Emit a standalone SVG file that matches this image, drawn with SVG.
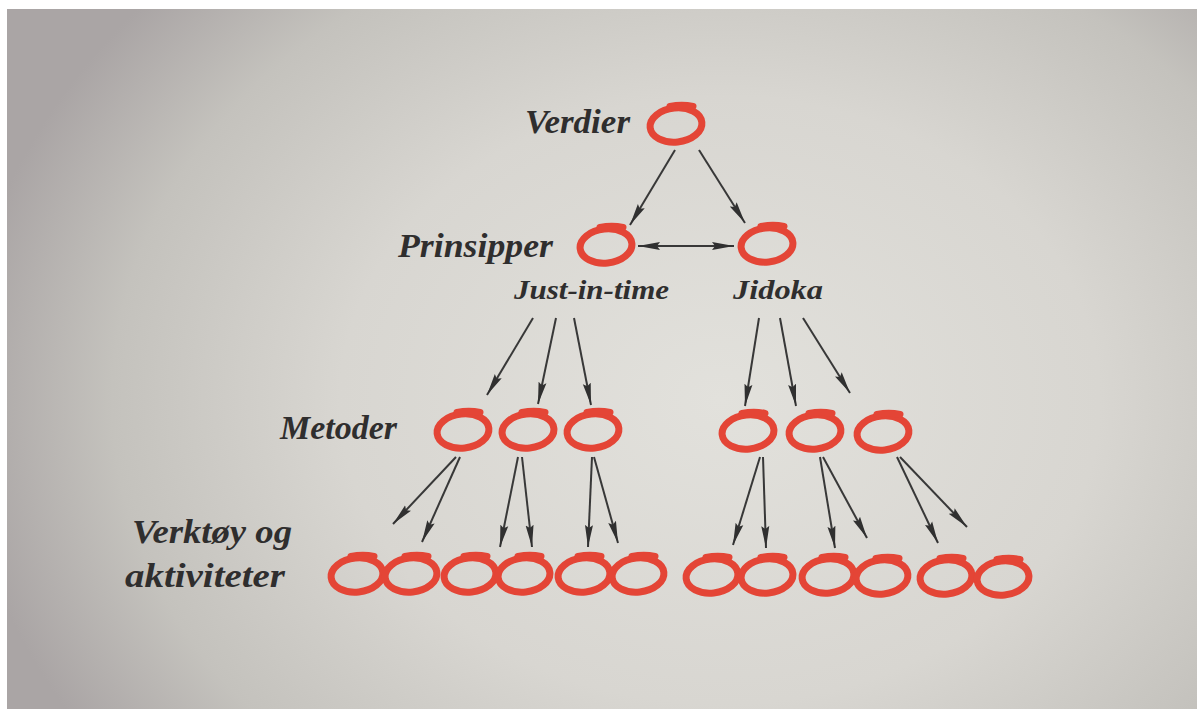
<svg xmlns="http://www.w3.org/2000/svg" xmlns:xlink="http://www.w3.org/1999/xlink" width="1200" height="709" viewBox="0 0 1200 709">
  <style>
    .lbl { font-family: "Liberation Serif", "DejaVu Serif", serif; font-style: italic; font-weight: bold; fill: #2f2e2e; }
    .big { font-size: 34px; }
    .small { font-size: 27px; }
    .conn line { stroke: #383838; stroke-width: 2; fill: none; marker-end: url(#head); }
    .ring-shape { fill: none; stroke: #e44536; stroke-width: 7; stroke-linecap: round; }
  </style>
  <defs>
    <radialGradient id="screen" cx="720" cy="400" r="760" gradientUnits="userSpaceOnUse" gradientTransform="translate(720 400) scale(1 0.8) translate(-720 -400)">
      <stop offset="0" stop-color="#e2e1dc"/>
      <stop offset="0.5" stop-color="#d8d6d1"/>
      <stop offset="0.8" stop-color="#c4c2bd"/>
      <stop offset="1" stop-color="#aaa5a5"/>
    </radialGradient>
    <marker id="head" viewBox="0 0 22 9" markerWidth="22" markerHeight="9" refX="22" refY="4.5" orient="auto-start-reverse" markerUnits="userSpaceOnUse">
      <path d="M0,0.5 L22,4.5 L0,8.5 L3,4.5 Z" fill="#303030"/>
    </marker>
    <!-- hand-drawn "O": tilted ellipse with a thin overshoot stroke on top -->
    <g id="ring">
      <ellipse class="ring-shape" cx="0" cy="0" rx="26" ry="17" transform="rotate(-6)"/>
      <path class="ring-shape" d="M-6,-18.5 Q6,-21 17,-18.5" stroke-width="2.5"/>
    </g>
  </defs>

  <!-- background -->
  <rect x="0" y="0" width="1200" height="709" fill="#ffffff"/>
  <rect x="7" y="9" width="1190" height="700" fill="url(#screen)"/>

  <!-- level labels -->
  <text class="lbl big" x="525" y="133" textLength="105" lengthAdjust="spacingAndGlyphs">Verdier</text>
  <text class="lbl big" x="398" y="257" textLength="155" lengthAdjust="spacingAndGlyphs">Prinsipper</text>
  <text class="lbl small" x="514" y="299" textLength="155" lengthAdjust="spacingAndGlyphs">Just-in-time</text>
  <text class="lbl small" x="733" y="299" textLength="90" lengthAdjust="spacingAndGlyphs">Jidoka</text>
  <text class="lbl big" x="280" y="439" textLength="117" lengthAdjust="spacingAndGlyphs">Metoder</text>
  <text class="lbl big" x="132" y="543" textLength="160" lengthAdjust="spacingAndGlyphs">Verktøy og</text>
  <text class="lbl big" x="125" y="587" textLength="160" lengthAdjust="spacingAndGlyphs">aktiviteter</text>

  <!-- connectors -->
  <g class="conn" id="connectors">
    <line x1="675" y1="150" x2="630" y2="225"/>
    <line x1="699" y1="150" x2="745" y2="223"/>
    <line x1="638" y1="246" x2="734" y2="246" marker-start="url(#head)"/>

    <line x1="533" y1="318" x2="487" y2="395"/>
    <line x1="556" y1="318" x2="538" y2="404"/>
    <line x1="574" y1="318" x2="591" y2="405"/>
    <line x1="759" y1="318" x2="745" y2="406"/>
    <line x1="780" y1="318" x2="796" y2="406"/>
    <line x1="803" y1="318" x2="850" y2="393"/>

    <line x1="456" y1="457" x2="393" y2="524"/>
    <line x1="460" y1="457" x2="422" y2="542"/>
    <line x1="518" y1="457" x2="500" y2="547"/>
    <line x1="522" y1="457" x2="532" y2="547"/>
    <line x1="592" y1="457" x2="588" y2="547"/>
    <line x1="594" y1="457" x2="618" y2="543"/>

    <line x1="760" y1="457" x2="733" y2="545"/>
    <line x1="763" y1="457" x2="766" y2="548"/>
    <line x1="820" y1="457" x2="835" y2="548"/>
    <line x1="823" y1="457" x2="867" y2="538"/>
    <line x1="897" y1="457" x2="938" y2="543"/>
    <line x1="900" y1="457" x2="967" y2="527"/>
  </g>

  <!-- nodes -->
  <g id="n-verdier"><use href="#ring" x="676" y="125"/></g>
  <g id="n-jit"><use href="#ring" x="606" y="246"/></g>
  <g id="n-jidoka"><use href="#ring" x="767" y="245"/></g>

  <g id="n-m1"><use href="#ring" x="463" y="431"/></g>
  <g id="n-m2"><use href="#ring" x="528" y="431"/></g>
  <g id="n-m3"><use href="#ring" x="593" y="431"/></g>
  <g id="n-m4"><use href="#ring" x="748" y="432"/></g>
  <g id="n-m5"><use href="#ring" x="815" y="432"/></g>
  <g id="n-m6"><use href="#ring" x="883" y="433"/></g>

  <g id="n-t1"><use href="#ring" x="357" y="575"/></g>
  <g id="n-t2"><use href="#ring" x="411" y="575"/></g>
  <g id="n-t3"><use href="#ring" x="470" y="575"/></g>
  <g id="n-t4"><use href="#ring" x="524" y="575"/></g>
  <g id="n-t5"><use href="#ring" x="584" y="575"/></g>
  <g id="n-t6"><use href="#ring" x="638" y="575"/></g>
  <g id="n-t7"><use href="#ring" x="712" y="576"/></g>
  <g id="n-t8"><use href="#ring" x="767" y="576"/></g>
  <g id="n-t9"><use href="#ring" x="828" y="576"/></g>
  <g id="n-t10"><use href="#ring" x="882" y="577"/></g>
  <g id="n-t11"><use href="#ring" x="946" y="577"/></g>
  <g id="n-t12"><use href="#ring" x="1003" y="578"/></g>
</svg>
